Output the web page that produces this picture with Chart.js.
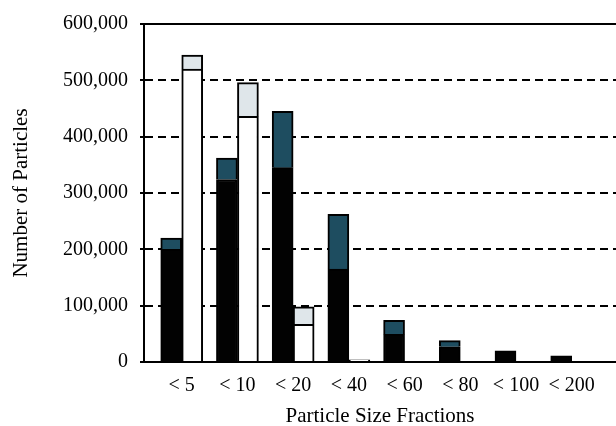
<!DOCTYPE html>
<html>
<head>
<meta charset="utf-8">
<title>Number of Particles</title>
<script src="https://cdn.jsdelivr.net/npm/chart.js@4/dist/chart.umd.min.js"></script>
<style>
    html, body { margin: 0; padding: 0; background: #ffffff; }
    #wrap { width: 616px; height: 426px; }
</style>
</head>
<body>
<div id="wrap"><canvas id="particle_chart" width="616" height="426"></canvas></div>
<script>
// size fractions on the x axis
const sizeLabels = ["< 5", "< 10", "< 20", "< 40", "< 60", "< 80", "< 100", "< 200"];

// left column of each pair (black base + blue top)
const darkBase = [200000, 324000, 345000, 165000, 49000, 27000, 20000, 11000];
const darkTop = [20000, 38000, 100000, 97000, 25000, 11000, 0, 0];

// right column of each pair (white base + grey top)
const lightBase = [520000, 436000, 67000, 4000, 0, 0, 0, 0];
const lightTop = [25000, 60000, 31000, 0, 0, 0, 0, 0];

const yTicks = [0, 100000, 200000, 300000, 400000, 500000, 600000];

const serif = "'Liberation Serif', 'Times New Roman', serif";

function points(values) {
    return values.map((v, i) => ({ x: i, y: v }));
}

function column(label, values, stack, color) {
    return {
        label: label,
        data: points(values),
        stack: stack,
        backgroundColor: color,
        borderColor: "#000000",
        borderWidth: 2,
        barThickness: 21,
    };
}

var ctx = document.getElementById("particle_chart").getContext("2d");

new Chart(ctx, {
    type: "bar",
    data: {
        datasets: [
            column("base a", darkBase, "a", "#020202"),
            column("top a", darkTop, "a", "#1e4d60"),
            column("base b", lightBase, "b", "#ffffff"),
            column("top b", lightTop, "b", "#dfe6ea"),
        ],
    },
    options: {
        responsive: false,
        animation: false,
        layout: { padding: 0 },
        plugins: {
            legend: { display: false },
            tooltip: { enabled: false },
        },
        scales: {
            x: {
                type: "linear",
                stacked: true,
                offset: false,
                min: -0.677,
                max: 7.795,
                afterFit: (scale) => { scale.height = 64; },
                afterBuildTicks: (scale) => {
                    scale.ticks = sizeLabels.map((l, i) => ({ value: i }));
                },
                grid: { display: false, offset: false },
                border: { display: true, color: "#000000", width: 2 },
                ticks: {
                    autoSkip: false,
                    maxRotation: 0,
                    padding: 4,
                    color: "#000000",
                    font: { family: serif, size: 20 },
                    callback: (value) => sizeLabels[value],
                },
                title: {
                    display: true,
                    text: "Particle Size Fractions",
                    color: "#000000",
                    font: { family: serif, size: 21, lineHeight: 1 },
                    padding: { top: 0, bottom: -1 },
                },
            },
            // plain line closing the top of the plot
            xTop: {
                type: "linear",
                position: "top",
                afterFit: (scale) => { scale.height = 22; },
                grid: { display: false },
                ticks: { display: false },
                border: { display: true, color: "#000000", width: 2 },
            },
            y: {
                stacked: true,
                min: 0,
                max: 600000,
                afterFit: (scale) => { scale.width = 144; },
                afterBuildTicks: (scale) => {
                    scale.ticks = yTicks.map((v) => ({ value: v }));
                },
                grid: {
                    lineWidth: 2,
                    color: (c) =>
                        c.tick && c.tick.value > 0 && c.tick.value < 600000
                            ? "#000000"
                            : "rgba(0,0,0,0)",
                    tickColor: "#000000",
                    tickLength: 4,
                    tickWidth: 2,
                },
                border: { display: true, color: "#000000", width: 2, dash: [8, 5] },
                ticks: {
                    padding: 12,
                    color: "#000000",
                    font: { family: serif, size: 20 },
                    callback: (value) => value.toLocaleString("en-US"),
                },
                title: {
                    display: true,
                    text: "Number of Particles",
                    color: "#000000",
                    font: { family: serif, size: 21, lineHeight: 1 },
                    padding: { top: 11, bottom: 0 },
                },
            },
        },
    },
});
</script>
</body>
</html>
